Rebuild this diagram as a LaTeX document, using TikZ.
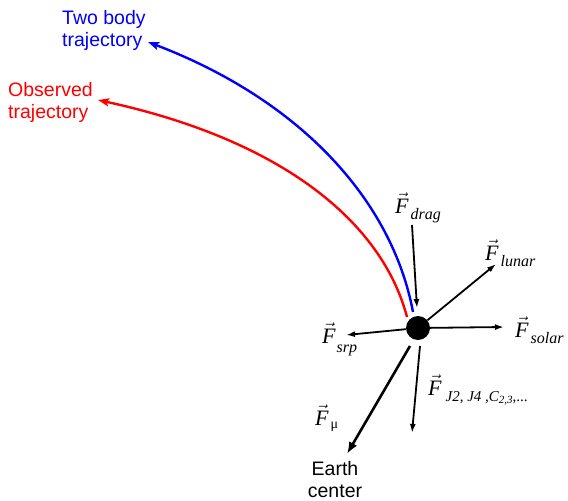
\documentclass[tikz,border=0pt]{standalone}
\usepackage{fontspec}
\setmainfont{Liberation Serif}
\newfontfamily\lsans{Liberation Sans}
\usetikzlibrary{arrows.meta}
\newcommand\Fsub[2][16]{$\vec{\mbox{\itshape F}}$\kern2pt\raisebox{-6pt}{\fontsize{#1}{#1}\selectfont\itshape #2}}
\begin{document}
\begin{tikzpicture}[x=1pt,y=-1pt,
  lbl/.style={inner sep=0pt, font=\lsans\fontsize{19.5}{22}\selectfont, align=left, anchor=north west},
  flbl/.style={inner sep=0pt, font=\fontsize{22}{22}\selectfont, anchor=base west},
  traj/.style={line width=2.4pt, -{Stealth[length=11pt,width=8pt,inset=2pt]}},
  force/.style={line width=1.8pt, black, -{Latex[length=9pt,width=6pt]}},
  gforce/.style={line width=2.6pt, black, -{Latex[length=12pt,width=9pt]}}]
\useasboundingbox (0,0) rectangle (568,501);
% trajectory labels
\node[lbl, text=blue] (tb) at (62,10) {Two body\\trajectory};
\node[lbl, text=red] (ob) at (8,82) {Observed\\trajectory};
\node[lbl, align=center, anchor=north] (ec) at (335,461) {Earth\\center};
% satellite
\node[circle, fill=black, minimum size=24pt, inner sep=0pt] (ball) at (418,328) {};
% trajectory curves
\coordinate (bstart) at (413,312);
\coordinate (bend) at (148,42);
\coordinate (rstart) at (407,317);
\coordinate (rend) at (98,100);
\draw[traj, blue] (bstart) .. controls (392,200) and (300,100) .. (bend);
\draw[traj, red] (rstart) .. controls (382,222) and (282,140) .. (rend);
% force ends
\coordinate (dragstart) at (412,225);
\coordinate (dragend) at (417,308);
\coordinate (lunarend) at (496,264);
\coordinate (solarend) at (504,327);
\coordinate (srpend) at (346,335);
\coordinate (mustart) at (410,346);
\coordinate (muend) at (347,454);
\coordinate (jstart) at (420,346);
\coordinate (jend) at (412,433);
\draw[force] (dragstart) -- (dragend);
\draw[force] (ball) -- (lunarend);
\draw[force] (ball) -- (solarend);
\draw[force] (ball) -- (srpend);
\draw[gforce] (mustart) -- (muend);
\draw[force] (jstart) -- (jend);
% force labels
\node[flbl] (fdrag) at (395,213) {\Fsub{drag}};
\node[flbl] (flunar) at (485,260) {\Fsub{lunar}};
\node[flbl] (fsolar) at (515,337) {\Fsub{solar}};
\node[flbl] (fsrp) at (322,343) {$\vec{\mbox{\itshape F}}$\kern1pt\raisebox{-9pt}{\fontsize{16}{16}\selectfont\itshape srp}};
\node[flbl] (fmu) at (315,425) {$\vec{\mbox{\itshape F}}$\kern2pt\raisebox{-3pt}{\fontsize{14}{14}\selectfont μ}};
\node[flbl] (fj) at (428,395) {$\vec{\mbox{\itshape F}}$\kern4pt\raisebox{-6pt}{\fontsize{15}{15}\selectfont\itshape J2, J4 ,C\raisebox{-2pt}{\fontsize{11}{11}\selectfont 2,3}\upshape,...}};
\end{tikzpicture}
\end{document}
